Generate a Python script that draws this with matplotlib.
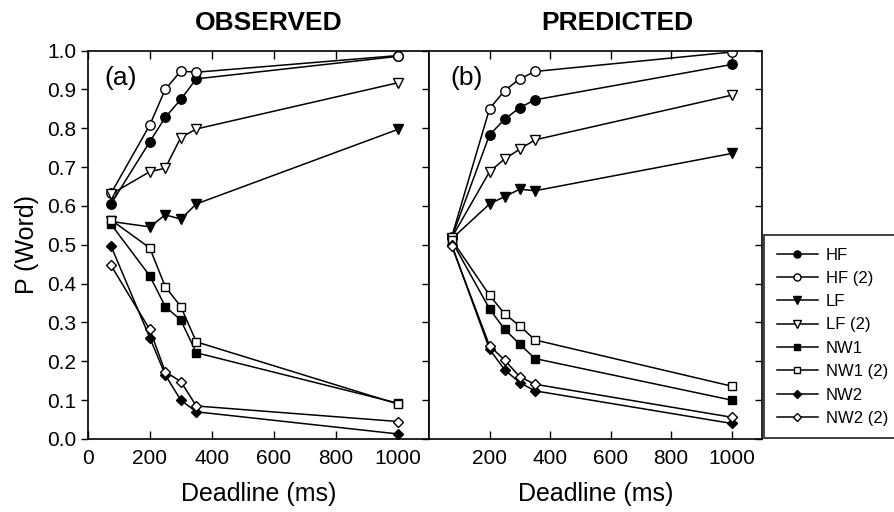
import matplotlib
matplotlib.use("Agg")
import matplotlib.pyplot as plt
from matplotlib.lines import Line2D

plt.rcParams['font.family'] = ['Liberation Sans', 'DejaVu Sans']

deadlines = [75, 200, 250, 300, 350, 1000]
labels = ["HF", "HF (2)", "LF", "LF (2)", "NW1", "NW1 (2)", "NW2", "NW2 (2)"]

# Observed (panel a)
obs_hf = [0.605, 0.765, 0.828, 0.874, 0.927, 0.985]
obs_hf2 = [0.632, 0.808, 0.900, 0.947, 0.944, 0.987]
obs_lf = [0.560, 0.546, 0.577, 0.566, 0.605, 0.797]
obs_lf2 = [0.630, 0.688, 0.697, 0.776, 0.798, 0.917]
obs_nw1 = [0.553, 0.420, 0.341, 0.306, 0.222, 0.092]
obs_nw1b = [0.564, 0.492, 0.392, 0.341, 0.250, 0.090]
obs_nw2 = [0.497, 0.261, 0.165, 0.100, 0.070, 0.013]
obs_nw2b = [0.447, 0.282, 0.173, 0.148, 0.085, 0.045]

# Predicted (panel b)
pred_hf = [0.518, 0.783, 0.823, 0.853, 0.873, 0.964]
pred_hf2 = [0.520, 0.850, 0.897, 0.927, 0.946, 0.996]
pred_lf = [0.515, 0.605, 0.624, 0.643, 0.639, 0.735]
pred_lf2 = [0.518, 0.688, 0.721, 0.746, 0.770, 0.885]
pred_nw1 = [0.510, 0.335, 0.282, 0.244, 0.207, 0.100]
pred_nw1b = [0.513, 0.370, 0.322, 0.291, 0.255, 0.136]
pred_nw2 = [0.500, 0.231, 0.178, 0.145, 0.124, 0.040]
pred_nw2b = [0.497, 0.240, 0.203, 0.160, 0.141, 0.056]

observed = [obs_hf, obs_hf2, obs_lf, obs_lf2, obs_nw1, obs_nw1b, obs_nw2, obs_nw2b]
predicted = [pred_hf, pred_hf2, pred_lf, pred_lf2, pred_nw1, pred_nw1b, pred_nw2, pred_nw2b]

styles = [
    dict(marker='o', mfc='black', ms=6.8),
    dict(marker='o', mfc='white', ms=6.8),
    dict(marker='v', mfc='black', ms=7.5),
    dict(marker='v', mfc='white', ms=7.5),
    dict(marker='s', mfc='black', ms=6.0),
    dict(marker='s', mfc='white', ms=6.0),
    dict(marker='D', mfc='black', ms=5.6),
    dict(marker='D', mfc='white', ms=5.6),
]

W, H = 894, 512
fig = plt.figure(figsize=(W / 100, H / 100), dpi=100)

def fx(px):
    return px / W

def fy(py):
    return 1 - py / H

axL = fig.add_axes([fx(87.7), fy(439), fx(429 - 87.7), fy(50.5) - fy(439)])
axR = fig.add_axes([fx(429), fy(439), fx(762 - 429), fy(50.5) - fy(439)])

for ax, data in ((axL, observed), (axR, predicted)):
    for vals, st, lab in zip(data, styles, labels):
        ax.plot(deadlines, vals, color='black', lw=1.1, mec='black', mew=1.0,
                label=lab, **st)
    ax.set_xlim(0, 1100)
    ax.set_ylim(0, 1.0)
    for s in ax.spines.values():
        s.set_linewidth(1.2)
    ax.set_xticks([0, 200, 400, 600, 800, 1000])
    ax.tick_params(axis='x', direction='in', top=True, length=6, width=1.0,
                   labelsize=15, pad=7)
    ax.set_xlabel("Deadline (ms)", fontsize=18, labelpad=10)

axL.set_yticks([i / 10 for i in range(11)])
axL.set_yticklabels([f"{i / 10:.1f}" for i in range(11)])
axL.tick_params(axis='y', direction='out', length=5, width=1.0, labelsize=15,
                pad=3, right=False)
axL.set_ylabel("P (Word)", fontsize=18, labelpad=6)
axR.set_yticks([i / 10 for i in range(11)])
axR.tick_params(axis='y', direction='out', left=True, right=True,
                labelleft=False, length=5, width=1.0)
for t in axR.yaxis.get_major_ticks():
    t.tick2line.set_marker(matplotlib.lines.TICKLEFT)
axR.set_xticks([200, 400, 600, 800, 1000])

axL.text(0.05, 0.93, "(a)", transform=axL.transAxes, fontsize=19,
         va='center', ha='left')
axR.text(0.063, 0.93, "(b)", transform=axR.transAxes, fontsize=19,
         va='center', ha='left')

fig.text(fx(269), fy(23), "OBSERVED", fontsize=19, fontweight='bold',
         ha='center', va='center')
fig.text(fx(617), fy(23), "PREDICTED", fontsize=19, fontweight='bold',
         ha='center', va='center')

handles = [Line2D([], [], color='black', lw=1.1, mec='black', mew=1.0,
                  marker=st['marker'], mfc=st['mfc'], ms=st['ms'] * 0.75)
           for st in styles]
leg = fig.legend(handles, labels, loc='upper left',
                 bbox_to_anchor=(fx(764), fy(235)), borderaxespad=0,
                 fontsize=12, frameon=True, fancybox=False, handlelength=2.5,
                 handletextpad=0.45, labelspacing=0.5, borderpad=0.75)
leg.get_frame().set_edgecolor('black')
leg.get_frame().set_linewidth(1.3)

fig.savefig("out.png", dpi=100)
